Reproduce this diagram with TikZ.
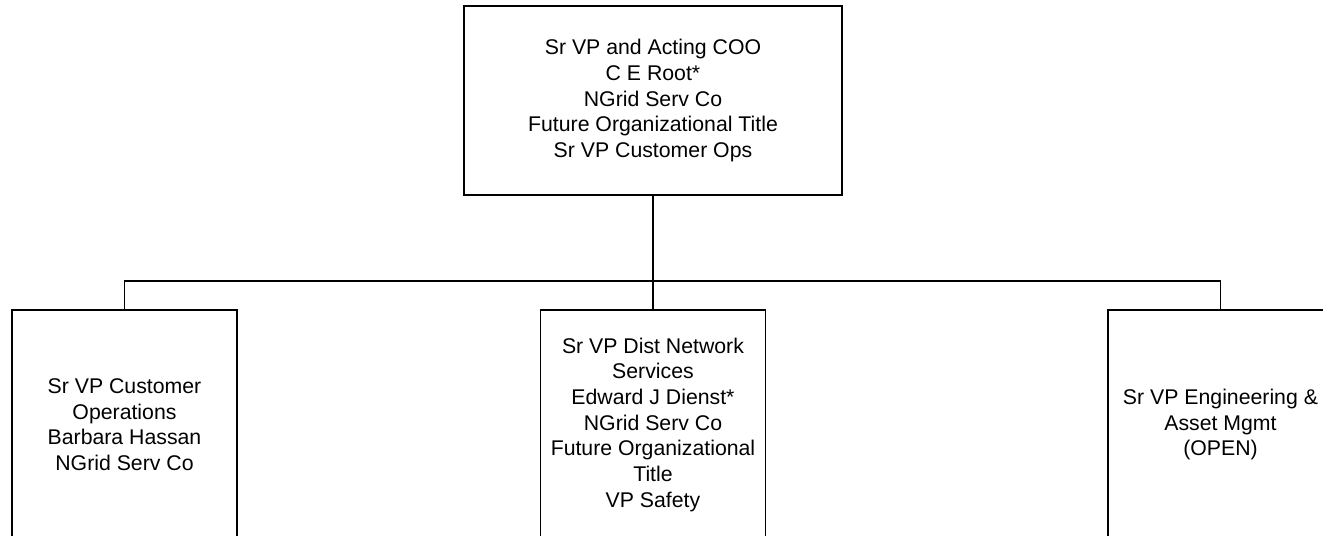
\documentclass[tikz,border=0pt]{standalone}
\usepackage{fontspec}
\setmainfont{Liberation Sans}
\usetikzlibrary{positioning}

\begin{document}
\begin{tikzpicture}[
  box/.style={draw, line width=0.9pt, align=center, inner sep=4pt,
    font=\fontsize{12.1}{14.6}\selectfont},
  topbox/.style={box, minimum width=7.56cm, minimum height=3.78cm},
  subbox/.style={box, minimum width=4.5cm, minimum height=4.6cm},
  link/.style={line width=0.9pt}
]
\useasboundingbox (0,0) rectangle (26.46,-10.7);
\clip (0,0) rectangle (26.46,-10.7);

\node[topbox] (coo) at (13.06,-2.01) {Sr VP and Acting COO\\C E Root*\\NGrid Serv Co\\Future Organizational Title\\Sr VP Customer Ops};

\node[subbox, anchor=north] (custops) at (2.49,-6.18) {Sr VP Customer\\Operations\\Barbara Hassan\\NGrid Serv Co};
\node[subbox, anchor=north] (distnet) at (13.06,-6.18) {Sr VP Dist Network\\Services\\Edward J Dienst*\\NGrid Serv Co\\Future Organizational\\Title\\VP Safety};
\node[subbox, anchor=north] (engasset) at (24.41,-6.18) {Sr VP Engineering \&\\Asset Mgmt\\(OPEN)};

\draw[link] (coo.south) -- ++(0,-1.7) coordinate (bar);
\draw[link] (bar) -| (custops.north);
\draw[link] (bar) -- (distnet.north);
\draw[link] (bar) -| (engasset.north);
\end{tikzpicture}
\end{document}
